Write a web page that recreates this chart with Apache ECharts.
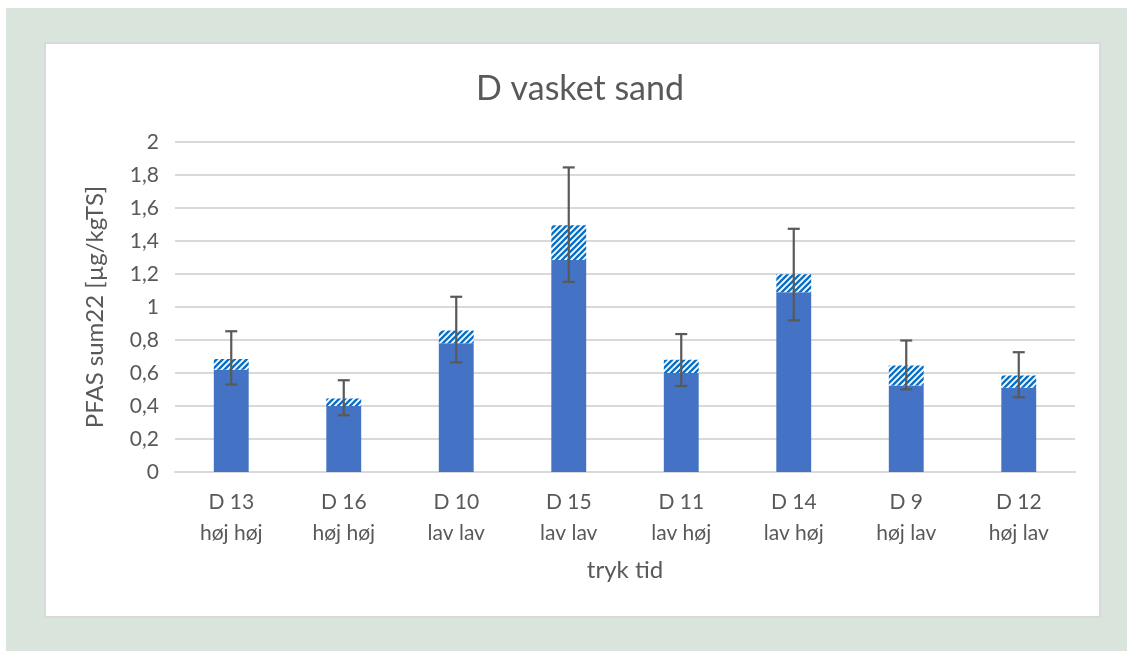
<!DOCTYPE html>
<html>
<head>
<meta charset="utf-8">
<script src="https://cdn.jsdelivr.net/npm/echarts@6/dist/echarts.min.js"></script>
<style>
  html, body { margin: 0; padding: 0; background: #ffffff; }
  #frame { position: absolute; left: 6px; top: 8px; width: 1121px; height: 643px; background: #d9e4dc; }
  #panel { position: absolute; left: 44px; top: 42px; width: 1057px; height: 576px; background: #ffffff; border: 2px solid #d9d9d9; box-sizing: border-box; }
  #chart { position: absolute; left: 0; top: 0; width: 1127px; height: 651px; }
</style>
</head>
<body>
<div id="frame"></div>
<div id="panel"></div>
<div id="chart"></div>
<script>
// Data
const categories = ['D 13\nhøj høj', 'D 16\nhøj høj', 'D 10\nlav lav', 'D 15\nlav lav', 'D 11\nlav høj', 'D 14\nlav høj', 'D 9\nhøj lav', 'D 12\nhøj lav'];
const solidValues = [0.62, 0.40, 0.78, 1.285, 0.60, 1.09, 0.525, 0.51];
const totalValues = [0.685, 0.445, 0.857, 1.495, 0.68, 1.198, 0.645, 0.585];
const errHigh = [0.853, 0.556, 1.062, 1.846, 0.836, 1.474, 0.797, 0.726];
const errLow = [0.530, 0.344, 0.665, 1.152, 0.521, 0.919, 0.501, 0.453];
const yTicks = ['0', '0,2', '0,4', '0,6', '0,8', '1', '1,2', '1,4', '1,6', '1,8', '2'];

const hatchValues = totalValues.map((t, i) => +(t - solidValues[i]).toFixed(4));

// hatch pattern
const pc = document.createElement('canvas');
pc.width = 6; pc.height = 6;
const ctx = pc.getContext('2d');
ctx.fillStyle = '#ffffff';
ctx.fillRect(0, 0, 6, 6);
ctx.strokeStyle = '#0a70c4';
ctx.lineWidth = 2.4;
ctx.beginPath();
ctx.moveTo(-1, 7); ctx.lineTo(7, -1);
ctx.moveTo(-4, 4); ctx.lineTo(4, -4);
ctx.moveTo(2, 10); ctx.lineTo(10, 2);
ctx.stroke();

const chart = echarts.init(document.getElementById('chart'), null, { renderer: 'canvas' });
const textColor = '#595959';
const fontFamily = 'Lato, "Open Sans", sans-serif';

chart.setOption({
  animation: false,
  backgroundColor: 'transparent',
  title: {
    text: 'D vasket sand',
    left: 471,
    top: 67,
    textStyle: { color: textColor, fontSize: 34, fontWeight: 'normal', fontFamily: fontFamily }
  },
  grid: { left: 175, right: 52, top: 142, bottom: 179 },
  xAxis: {
    type: 'category',
    data: categories,
    name: 'tryk tid',
    nameLocation: 'middle',
    nameGap: 86,
    nameTextStyle: { color: textColor, fontSize: 24, fontFamily: fontFamily },
    axisLine: { lineStyle: { color: '#d9d9d9', width: 2 } },
    axisTick: { show: false },
    axisLabel: { color: textColor, fontSize: 21, fontFamily: fontFamily, lineHeight: 31, margin: 15 }
  },
  yAxis: {
    type: 'value',
    min: 0,
    max: 2,
    interval: 0.2,
    name: 'PFAS sum22 [µg/kgTS]',
    nameLocation: 'middle',
    nameGap: 68,
    nameTextStyle: { color: textColor, fontSize: 24, fontFamily: fontFamily },
    axisLine: { show: false },
    axisTick: { show: false },
    splitLine: { lineStyle: { color: '#d9d9d9', width: 2 } },
    axisLabel: {
      color: textColor, fontSize: 21, fontFamily: fontFamily, margin: 16,
      formatter: (v) => yTicks[Math.round(v / 0.2)]
    }
  },
  series: [
    {
      type: 'bar',
      stack: 'a',
      data: solidValues,
      barWidth: '31%',
      itemStyle: { color: '#4472c4' }
    },
    {
      type: 'bar',
      stack: 'a',
      data: hatchValues,
      barWidth: '31%',
      itemStyle: { color: { image: pc, repeat: 'repeat' } }
    },
    {
      type: 'custom',
      data: categories.map((c, i) => [i, errLow[i], errHigh[i]]),
      z: 10,
      renderItem: function (params, api) {
        const i = api.value(0);
        const lo = api.coord([i, api.value(1)]);
        const hi = api.coord([i, api.value(2)]);
        const hw = 6;
        const style = { stroke: '#595959', lineWidth: 2.2, fill: null };
        return {
          type: 'group',
          children: [
            { type: 'line', shape: { x1: hi[0], y1: hi[1], x2: lo[0], y2: lo[1] }, style: style },
            { type: 'line', shape: { x1: hi[0] - hw, y1: hi[1], x2: hi[0] + hw, y2: hi[1] }, style: style },
            { type: 'line', shape: { x1: lo[0] - hw, y1: lo[1], x2: lo[0] + hw, y2: lo[1] }, style: style }
          ]
        };
      }
    }
  ]
});
</script>
</body>
</html>
